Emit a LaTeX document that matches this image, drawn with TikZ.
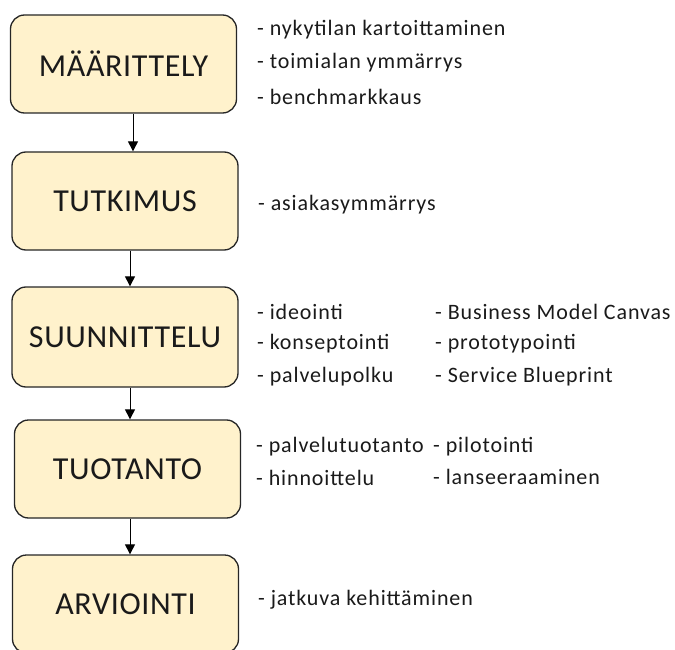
\documentclass[tikz,border=0pt]{standalone}
\usepackage{fontspec}
\setmainfont{Carlito}
\newfontfamily\itemfont[LetterSpace=4]{Carlito}
\newfontfamily\stagefont[LetterSpace=2]{Carlito}
\usetikzlibrary{arrows.meta}
\definecolor{boxfill}{HTML}{FFF2CC}
\definecolor{boxline}{HTML}{262626}
\definecolor{txt}{HTML}{1A1A1A}
\begin{document}
\begin{tikzpicture}[x=1pt,y=-1pt,
  stage/.style={draw=boxline, line width=1.3pt, fill=boxfill, rounded corners=14pt,
    minimum width=226pt, inner sep=0pt, font=\stagefont\fontsize{32}{32}\selectfont, text=txt},
  item/.style={anchor=west, inner sep=0pt, font=\itemfont\fontsize{22}{22}\selectfont, text=txt},
  arr/.style={draw=black, line width=1pt, -{Triangle[width=10pt,length=10pt]}}]
\useasboundingbox (0,0) rectangle (675,650);
\node[stage, minimum height=98pt] (b1) at (123.5,64) {MÄÄRITTELY};
\node[stage, minimum height=98pt] (b2) at (125,201) {TUTKIMUS};
\node[stage, minimum height=100pt] (b3) at (125,337) {SUUNNITTELU};
\node[stage, minimum height=98pt] (b4) at (127.5,469) {TUOTANTO};
\node[stage, minimum height=98pt] (b5) at (125.5,604) {ARVIOINTI};
\coordinate (a1) at (133,0);
\coordinate (a2) at (130,0);
\draw[arr] (b1.south -| a1) -- (b2.north -| a1);
\draw[arr] (b2.south -| a2) -- (b3.north -| a2);
\draw[arr] (b3.south -| a2) -- (b4.north -| a2);
\draw[arr] (b4.south -| a2) -- (b5.north -| a2);
\node[item] (t11) at (257,30) {- nykytilan kartoittaminen};
\node[item] (t12) at (257,63) {- toimialan ymmärrys};
\node[item] (t13) at (257,97) {- benchmarkkaus};
\node[item] (t21) at (258,205) {- asiakasymmärrys};
\node[item] (t31) at (257,312) {- ideointi};
\node[item] (t32) at (257,344) {- konseptointi};
\node[item] (t33) at (257,377) {- palvelupolku};
\node[item] (t34) at (435,312) {- Business Model Canvas};
\node[item] (t35) at (435,344) {- prototypointi};
\node[item] (t36) at (435,377) {- Service Blueprint};
\node[item] (t41) at (256,447) {- palvelutuotanto};
\node[item] (t42) at (256,478) {- hinnoittelu};
\node[item] (t43) at (433,447) {- pilotointi};
\node[item] (t44) at (433,477) {- lanseeraaminen};
\node[item] (t51) at (258,600) {- jatkuva kehittäminen};
\end{tikzpicture}
\end{document}
